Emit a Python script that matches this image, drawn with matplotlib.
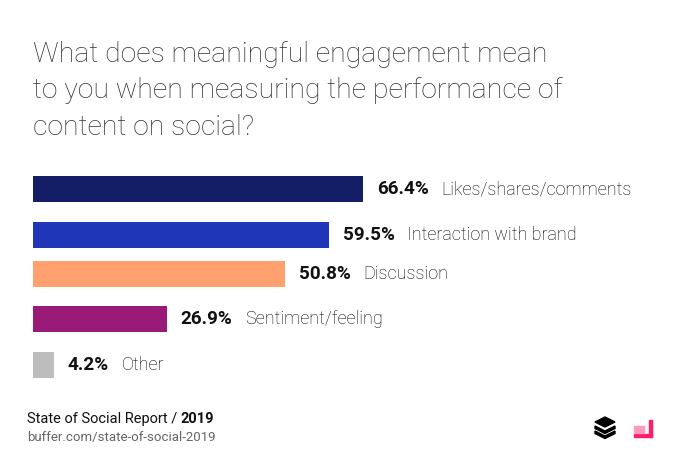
import matplotlib.pyplot as plt
from matplotlib.patches import Polygon, Rectangle

categories = ['Likes/shares/comments', 'Interaction with brand', 'Discussion',
              'Sentiment/feeling', 'Other']
values = [66.4, 59.5, 50.8, 26.9, 4.2]
colors = ['#141e66', '#1f36b8', '#ffa06f', '#9a1a78', '#bdbdbd']
title_lines = ['What does meaningful engagement mean',
               'to you when measuring the performance of',
               'content on social?']

W, H = 680, 472
fig = plt.figure(figsize=(W / 100, H / 100), dpi=100)
fig.patch.set_facecolor('white')


def fx(px):
    return px / W


def fy(py):
    return 1 - py / H


# title, one line at a time
for k, line in enumerate(title_lines):
    fig.text(fx(33), fy(62 + 36.5 * k), line, fontsize=20.4, family='Roboto',
             fontweight='light', color='#333333', va='baseline', ha='left')

# bars (axes y units are pixel rows of the figure)
ax = fig.add_axes([fx(33), fy(387), 497 / W, 220 / H])
rows = [189, 234.5, 274, 319, 365]
ax.barh(rows, values, height=26, color=colors)
ax.set_xlim(0, 100)
ax.set_ylim(387, 167)
ax.axis('off')

fig.canvas.draw()
r = fig.canvas.get_renderer()
for yy, v, c in zip(rows, values, categories):
    t = ax.annotate(f'{v}%', (v, yy), xytext=(10, 0), textcoords='offset points',
                    va='center', ha='left', fontsize=13.6, family='Roboto',
                    fontweight='bold', color='#111111')
    bb = t.get_window_extent(r)
    ax.annotate(c, (v, yy), xytext=(10 + bb.width * 72 / 100 + 9, 0),
                textcoords='offset points', va='center', ha='left',
                fontsize=13.0, family='Roboto', fontweight='light',
                color='#000000')

# footer
t = fig.text(fx(27), fy(419), 'State of Social Report / ', fontsize=10.5,
             family='Roboto', color='#111111', va='center', ha='left')
bb = t.get_window_extent(r)
fig.text(fx(27) + bb.width / W, fy(419), '2019', fontsize=10.5,
         family='Roboto', fontweight='bold', color='#111111',
         va='center', ha='left')
fig.text(fx(27), fy(438), 'buffer.com/state-of-social-2019', fontsize=9.5,
         family='Roboto', color='#666666', va='center', ha='left')

# buffer logo
tr = fig.transFigure
cx, cy = 605, 427
top = [(cx, cy - 10), (cx + 10, cy - 5), (cx, cy), (cx - 10, cy - 5)]
fig.patches.append(Polygon([(fx(a), fy(b)) for a, b in top], closed=True,
                           color='black', transform=tr))
for dy in (0, 5):
    ch = [(cx - 10, cy - 1 + dy), (cx, cy + 4 + dy), (cx + 10, cy - 1 + dy),
          (cx + 10, cy + 1.5 + dy), (cx, cy + 6.5 + dy), (cx - 10, cy + 1.5 + dy)]
    fig.patches.append(Polygon([(fx(a), fy(b)) for a, b in ch], closed=True,
                               color='black', transform=tr))

# pink icon
fig.patches.append(Rectangle((fx(634), fy(437)), 18 / W, 3 / H,
                             color='#ff1e6e', transform=tr))
fig.patches.append(Rectangle((fx(649), fy(437)), 3 / W, 17 / H,
                             color='#ff1e6e', transform=tr))
fig.patches.append(Rectangle((fx(634), fy(433)), 10 / W, 7 / H,
                             color='#ff9abb', transform=tr))

fig.savefig('out.png', dpi=100, facecolor='white')
